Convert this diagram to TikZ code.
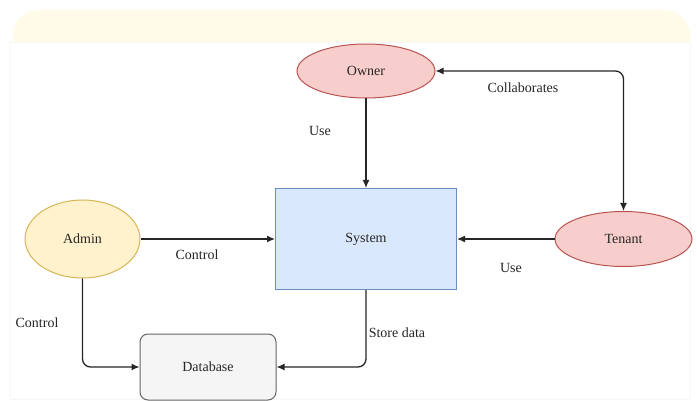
\documentclass[tikz,border=0pt]{standalone}
\usepackage{fontspec}
\setmainfont{Liberation Serif}
\usetikzlibrary{arrows.meta, shapes.geometric, positioning}
\definecolor{redFill}{HTML}{F8CECC}
\definecolor{redLine}{HTML}{B85450}
\definecolor{yelFill}{HTML}{FFF2CC}
\definecolor{yelLine}{HTML}{D6B656}
\definecolor{blueFill}{HTML}{DAE8FC}
\definecolor{blueLine}{HTML}{6C8EBF}
\definecolor{greyFill}{HTML}{F5F5F5}
\definecolor{greyLine}{HTML}{666666}
\definecolor{bandFill}{HTML}{FFFBE8}
\tikzset{
    actor/.style={ellipse, draw, line width=1pt, inner sep=0pt, text=black!85, font=\fontsize{14}{16}\selectfont},
    ownerActor/.style={actor, draw=redLine, fill=redFill},
    adminActor/.style={actor, draw=yelLine, fill=yelFill},
    sysBox/.style={rectangle, draw=blueLine, fill=blueFill, line width=1pt, text=black!85, font=\fontsize{14}{16}\selectfont},
    dbBox/.style={rectangle, rounded corners=8pt, draw=greyLine, fill=greyFill, line width=1pt, text=black!85, font=\fontsize{14}{16}\selectfont},
    flowEdge/.style={-{Latex[length=8pt, width=7pt]}, line width=1.3pt, draw=black!85, rounded corners=8pt},
    flowBoth/.style={{Latex[length=8pt, width=7pt]}-{Latex[length=8pt, width=7pt]}, line width=1.3pt, draw=black!85, rounded corners=8pt},
    edgeText/.style={font=\fontsize{14}{16}\selectfont, text=black!85, inner sep=1pt},
}
\begin{document}
\begin{tikzpicture}[x=10pt, y=-10pt]
        \useasboundingbox (0, 0) rectangle (69.7, 40.1);

        % background panel
        \fill[bandFill, rounded corners=25pt] (1.3, 1.0) rectangle (69.0, 7.0);
        \filldraw[fill=white, draw=black!3] (1.0, 4.2) rectangle (69.0, 39.9);

        \node[ownerActor, minimum width=138pt, minimum height=54pt] (Owner) at (36.6, 7.1) {Owner};
        \node[adminActor, minimum width=115pt, minimum height=78pt] (Admin) at (8.25, 23.9) {Admin};
        \node[ownerActor, minimum width=137pt, minimum height=55pt] (Tenant) at (62.35, 23.9) {Tenant};
        \node[sysBox, minimum width=181pt, minimum height=101pt] (System) at (36.6, 23.9) {System};
        \node[dbBox, minimum width=136pt, minimum height=66pt] (Database) at (20.8, 36.7) {Database};

        \node[edgeText] (useOwner) at (32.0, 13.1) {Use};
        \node[edgeText] (collab) at (52.3, 8.8) {Collaborates};
        \node[edgeText] (ctrlSys) at (19.7, 25.5) {Control};
        \node[edgeText] (useTenant) at (51.1, 26.8) {Use};
        \node[edgeText] (ctrlDb) at (3.7, 32.3) {Control};
        \node[edgeText] (storeData) at (39.7, 33.3) {Store data};

        \draw[flowEdge] (Owner) -- (System);
        \draw[flowBoth] (Owner.east) -| (Tenant.north);
        \draw[flowEdge] (Admin) -- (System);
        \draw[flowEdge] (Tenant) -- (System);
        \draw[flowEdge] (Admin.south) |- (Database.west);
        \draw[flowEdge] (System.south) |- (Database.east);

    \end{tikzpicture}
\end{document}
